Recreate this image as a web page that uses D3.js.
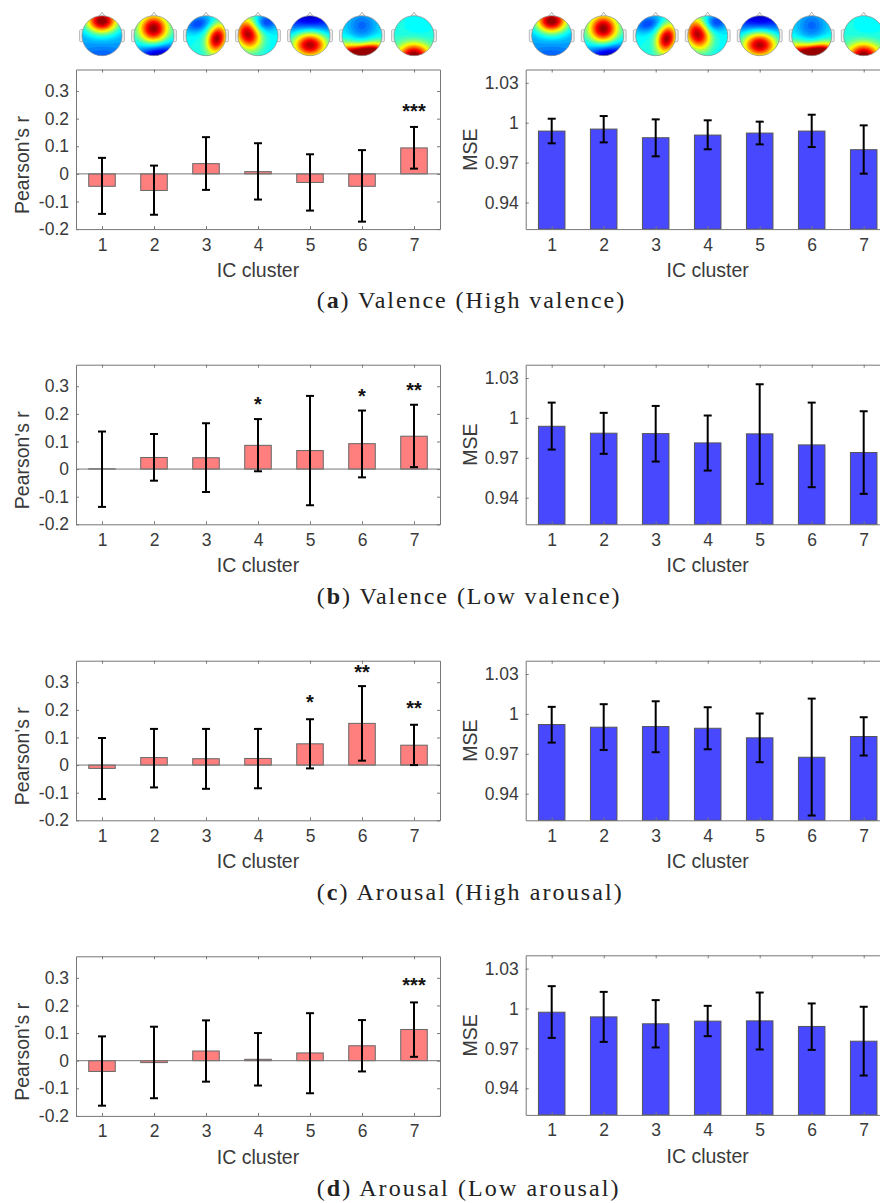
<!DOCTYPE html>
<html>
<head>
<meta charset="utf-8">
<script src="https://cdnjs.cloudflare.com/ajax/libs/d3/7.8.5/d3.min.js"></script>
<style>
	html, body { margin: 0; padding: 0; background: #fff; overflow: hidden; }
	svg { display: block; }
	text { font-family: "Liberation Sans", Arial, sans-serif; fill: #3a3a3a; }
	.caption { font-family: "Liberation Serif", serif; fill: #222; }
</style>
</head>
<body>
<script>
const clusters = [1, 2, 3, 4, 5, 6, 7];
const rTicks = [-0.2, -0.1, 0, 0.1, 0.2, 0.3];
const mseTicks = [0.94, 0.97, 1, 1.03];

const captionLetters = ['a', 'b', 'c', 'd'];
const captionTexts = [' Valence (High valence)', ' Valence (Low valence)', ' Arousal (High arousal)', ' Arousal (Low arousal)'];

// Pearson's r: bar height, top and bottom of the error bar
const rMeanA = [-0.045, -0.06, 0.037, 0.008, -0.031, -0.045, 0.094];
const rHighA = [0.058, 0.03, 0.133, 0.111, 0.071, 0.086, 0.17];
const rLowA = [-0.145, -0.148, -0.058, -0.093, -0.133, -0.173, 0.019];

const rMeanB = [0.001, 0.042, 0.041, 0.086, 0.067, 0.092, 0.119];
const rHighB = [0.136, 0.127, 0.166, 0.181, 0.265, 0.212, 0.233];
const rLowB = [-0.137, -0.042, -0.083, -0.008, -0.131, -0.03, 0.007];

const rMeanC = [-0.012, 0.027, 0.023, 0.024, 0.077, 0.151, 0.072];
const rHighC = [0.098, 0.131, 0.131, 0.131, 0.166, 0.286, 0.146];
const rLowC = [-0.123, -0.081, -0.086, -0.084, -0.012, 0.016, 0];

const rMeanD = [-0.039, -0.007, 0.035, 0.005, 0.028, 0.054, 0.113];
const rHighD = [0.088, 0.123, 0.146, 0.1, 0.172, 0.147, 0.211];
const rLowD = [-0.163, -0.136, -0.076, -0.09, -0.118, -0.039, 0.014];

// significance marks: [cluster, stars, value it sits at]
const starsA = [[7, '***', 0.235]];
const starsB = [[4, '*', 0.243], [6, '*', 0.273], [7, '**', 0.293]];
const starsC = [[5, '*', 0.236], [6, '**', 0.345], [7, '**', 0.214]];
const starsD = [[7, '***', 0.283]];

// MSE
const mseMeanA = [0.9937, 0.9952, 0.9887, 0.9907, 0.9922, 0.9937, 0.9797];
const mseHighA = [1.003, 1.005, 1.0025, 1.0018, 1.0008, 1.006, 0.998];
const mseLowA = [0.9845, 0.9852, 0.9747, 0.98, 0.9837, 0.9817, 0.9617];

const mseMeanB = [0.9937, 0.9885, 0.9882, 0.9812, 0.988, 0.9797, 0.974];
const mseHighB = [1.0115, 1.0038, 1.009, 1.0018, 1.0253, 1.0115, 1.005];
const mseLowB = [0.9762, 0.973, 0.9672, 0.9604, 0.9504, 0.9479, 0.9429];

const mseMeanC = [0.992, 0.99, 0.9905, 0.9892, 0.982, 0.9674, 0.983];
const mseHighC = [1.0053, 1.0073, 1.0095, 1.005, 1.0003, 1.0115, 0.9975];
const mseLowC = [0.9784, 0.9729, 0.9712, 0.9734, 0.9637, 0.9236, 0.9687];

const mseMeanD = [0.9972, 0.9937, 0.9885, 0.9905, 0.9907, 0.9865, 0.9754];
const mseHighD = [1.0168, 1.0125, 1.0063, 1.002, 1.012, 1.0038, 1.0013];
const mseLowD = [0.9779, 0.9749, 0.9707, 0.9792, 0.9692, 0.9689, 0.9496];

// scalp maps, one list per cluster: [x, y, spread x, spread y, tilt in degrees, strength]
const topoBase = [0.3, 0.38, 0.4, 0.38, 0.33, 0.38, 0.42];
const topo1 = [[0, -0.75, 0.55, 0.42, 0, 0.72], [0, 1.1, 0.8, 0.4, 0, -0.08]];
const topo2 = [[-0.02, -0.35, 0.5, 0.5, 0, 0.62], [0.3, 1.1, 0.8, 0.5, 0, -0.36]];
const topo3 = [[0.55, 0.15, 0.33, 0.5, 15, 0.58], [-0.4, -0.6, 0.5, 0.3, -15, -0.2]];
const topo4 = [[-0.5, -0.1, 0.42, 0.55, -20, 0.6], [0.35, -0.65, 0.5, 0.3, -15, -0.2]];
const topo5 = [[0, 0.45, 0.6, 0.45, 0, 0.65], [0, -1, 1, 0.6, 0, -0.25]];
const topo6 = [[0, -0.5, 0.55, 0.55, 0, -0.14], [0.4, 0.95, 0.5, 0.34, 0, 0.62], [-0.35, 1, 0.6, 0.34, 0, 0.5], [-0.85, 0.75, 0.4, 0.4, 0, 0.18], [0.85, 0.75, 0.4, 0.4, 0, 0.18]];
const topo7 = [[0, 1, 0.55, 0.42, 0, 0.6], [0.2, -0.5, 0.6, 0.6, 0, -0.04]];
const topoMaps = [topo1, topo2, topo3, topo4, topo5, topo6, topo7];

const jetStops = [0, 0.125, 0.375, 0.625, 0.875, 1];
const jetColors = ['#00008f', '#0000ff', '#00ffff', '#ffff00', '#ff0000', '#800000'];

const width = 880;
const height = 1203;

// rows are nearly 296px apart but not exactly
const leftTops = [69.5, 364.7, 660.7, 956.3];
const rightTops = [69.5, 364.7, 660.7, 955.3];
const captionBase = [308, 604, 900, 1196];
const captionWide = [307.5, 302.8, 305, 301.8];
const panelHeight = 159.6;
const barWidth = 0.51;

const rPanels = [
	{ mean: rMeanA, high: rHighA, low: rLowA, stars: starsA },
	{ mean: rMeanB, high: rHighB, low: rLowB, stars: starsB },
	{ mean: rMeanC, high: rHighC, low: rLowC, stars: starsC },
	{ mean: rMeanD, high: rHighD, low: rLowD, stars: starsD }
];
const msePanels = [
	{ mean: mseMeanA, high: mseHighA, low: mseLowA, stars: [] },
	{ mean: mseMeanB, high: mseHighB, low: mseLowB, stars: [] },
	{ mean: mseMeanC, high: mseHighC, low: mseLowC, stars: [] },
	{ mean: mseMeanD, high: mseHighD, low: mseLowD, stars: [] }
];

let svg = d3.select('body').append('svg')
	.attr('width', width)
	.attr('height', height);

let defs = svg.append('defs');
defs.append('filter')
	.attr('id', 'soft')
	.append('feGaussianBlur')
	.attr('stdDeviation', 0.35);
defs.append('clipPath')
	.attr('id', 'scalp')
	.append('circle')
	.attr('r', 20);

const jet = d3.scaleLinear().domain(jetStops).range(jetColors).clamp(true);

// the grid a scalp map is contoured from
const gridSize = 60;
function topoField(blobs, base) {
	let values = new Array(gridSize * gridSize);
	for (let j = 0; j < gridSize; j++) {
		for (let i = 0; i < gridSize; i++) {
			const ux = (i + 0.5) / gridSize * 2.2 - 1.1;
			const uy = (j + 0.5) / gridSize * 2.2 - 1.1;
			let v = base;
			for (let b of blobs) {
				const a = b[4] * Math.PI / 180;
				const dx = ux - b[0];
				const dy = uy - b[1];
				const px = (dx * Math.cos(a) + dy * Math.sin(a)) / b[2];
				const py = (-dx * Math.sin(a) + dy * Math.cos(a)) / b[3];
				v += b[5] * Math.exp(-(px * px + py * py) / 2);
			}
			values[j * gridSize + i] = v;
		}
	}
	return values;
}

const levels = d3.range(0, 1, 0.025);
const contours = d3.contours().size([gridSize, gridSize]).thresholds(levels);

function drawTopos(x) {
	topoMaps.forEach((blobs, k) => {
		let g = svg.append('g')
			.attr('transform', 'translate(' + x(clusters[k]) + ',35.7)');

		// nose and ears go under the head
		g.append('path')
			.attr('d', d3.line()([[-4, -18], [0, -23.4], [4, -18]]))
			.style('fill', '#fff')
			.style('stroke', '#999')
			.style('stroke-width', 0.8);
		for (let side of [-1, 1]) {
			g.append('rect')
				.attr('x', side < 0 ? -22.4 : 18)
				.attr('y', -6)
				.attr('width', 4.4)
				.attr('height', 12)
				.attr('rx', 1)
				.style('fill', '#eee')
				.style('stroke', '#aaa')
				.style('stroke-width', 0.8);
		}

		let head = g.append('g')
			.attr('clip-path', 'url(#scalp)');
		let inner = head.append('g')
			.attr('filter', 'url(#soft)')
			.attr('transform', 'scale(' + 44 / gridSize + ') translate(' + (-gridSize / 2) + ',' + (-gridSize / 2) + ')');
		inner.selectAll('path')
			.data(contours(topoField(blobs, topoBase[k])))
			.enter().append('path')
			.attr('d', d3.geoPath())
			.style('fill', d => jet(d.value))
			.style('stroke', d => jet(d.value))
			.style('stroke-width', 0.4);

		g.append('circle')
			.attr('r', 20)
			.style('fill', 'none')
			.style('stroke', '#888')
			.style('stroke-width', 0.7);
	});
}

function drawPanel(panel, opts) {
	const x = d3.scaleLinear().domain([0.5, 7.5]).range([opts.left, opts.left + 364]);
	const y = d3.scaleLinear().domain(opts.domain).range([opts.top + panelHeight, opts.top]);
	const base = opts.base === undefined ? opts.domain[0] : opts.base;
	const w = x(1 + barWidth / 2) - x(1 - barWidth / 2);

	let g = svg.append('g');

	g.selectAll('.bar')
		.data(clusters)
		.enter().append('rect')
		.attr('class', 'bar')
		.attr('x', c => x(c) - w / 2)
		.attr('y', (c, i) => Math.min(y(panel.mean[i]), y(base)))
		.attr('width', w)
		.attr('height', (c, i) => Math.abs(y(panel.mean[i]) - y(base)))
		.style('fill', opts.fill)
		.style('stroke', opts.edge)
		.style('stroke-width', 1);

	// axes on all four sides, MATLAB box style
	const axisStyle = sel => {
		sel.selectAll('path, line').style('stroke', '#777').style('stroke-width', 1);
		sel.selectAll('text').style('fill', '#3a3a3a').style('font-family', '"Liberation Sans", Arial, sans-serif');
	};
	g.append('g')
		.attr('transform', 'translate(0,' + y.range()[0] + ')')
		.call(d3.axisBottom(x).tickValues(clusters).tickSize(-3).tickSizeOuter(0).tickPadding(9).tickFormat(d3.format('d')))
		.call(axisStyle)
		.style('font-size', '17.5px');
	g.append('g')
		.attr('transform', 'translate(0,' + opts.top + ')')
		.call(d3.axisTop(x).tickValues(clusters).tickSize(-3).tickSizeOuter(0).tickFormat(''))
		.call(axisStyle);
	g.append('g')
		.attr('transform', 'translate(' + opts.left + ',0)')
		.call(d3.axisLeft(y).tickValues(opts.ticks).tickSize(-3).tickSizeOuter(0).tickPadding(7).tickFormat(d => String(d)))
		.call(axisStyle)
		.style('font-size', '17.5px');
	g.append('g')
		.attr('transform', 'translate(' + (opts.left + 364) + ',0)')
		.call(d3.axisRight(y).tickValues(opts.ticks).tickSize(-3).tickSizeOuter(0).tickFormat(''))
		.call(axisStyle);

	if (opts.base !== undefined) {
		g.append('line')
			.attr('x1', x.range()[0])
			.attr('x2', x.range()[1])
			.attr('y1', y(base))
			.attr('y2', y(base))
			.style('stroke', '#777')
			.style('stroke-width', 1);
	}

	// error bars
	let err = g.selectAll('.err')
		.data(clusters)
		.enter().append('g')
		.attr('class', 'err')
		.style('stroke', '#000')
		.style('stroke-width', 2);
	err.append('line')
		.attr('x1', c => x(c))
		.attr('x2', c => x(c))
		.attr('y1', (c, i) => y(panel.high[i]))
		.attr('y2', (c, i) => y(panel.low[i]));
	err.append('line')
		.attr('x1', c => x(c) - 4)
		.attr('x2', c => x(c) + 4)
		.attr('y1', (c, i) => y(panel.high[i]))
		.attr('y2', (c, i) => y(panel.high[i]));
	err.append('line')
		.attr('x1', c => x(c) - 4)
		.attr('x2', c => x(c) + 4)
		.attr('y1', (c, i) => y(panel.low[i]))
		.attr('y2', (c, i) => y(panel.low[i]));

	g.selectAll('.stars')
		.data(panel.stars)
		.enter().append('text')
		.attr('class', 'stars')
		.attr('x', d => x(d[0]))
		.attr('y', d => y(d[2]) + 9)
		.attr('text-anchor', 'middle')
		.style('font-size', '20px')
		.style('font-weight', 'bold')
		.style('fill', '#111')
		.text(d => d[1]);

	g.append('text')
		.attr('x', x(4))
		.attr('y', opts.top + panelHeight + 48)
		.attr('text-anchor', 'middle')
		.style('font-size', '19.5px')
		.text('IC cluster');

	g.append('text')
		.attr('transform', 'translate(' + opts.labelX + ',' + (opts.top + opts.labelDy) + ') rotate(-90)')
		.attr('text-anchor', 'middle')
		.style('font-size', '19.5px')
		.text(opts.label);

	return x;
}

rPanels.forEach((panel, i) => {
	const x = drawPanel(panel, {
		left: 76,
		top: leftTops[i],
		domain: [-0.2, 0.378],
		base: 0,
		ticks: rTicks,
		fill: '#ff7f7f',
		edge: '#666',
		label: "Pearson's r",
		labelX: 29,
		labelDy: 95.5
	});
	if (i === 0) {
		drawTopos(x);
	}
});

msePanels.forEach((panel, i) => {
	const x = drawPanel(panel, {
		left: 525.7,
		top: rightTops[i],
		domain: [0.92, 1.04],
		ticks: mseTicks,
		fill: '#4848ff',
		edge: '#555',
		label: 'MSE',
		labelX: 476.6,
		labelDy: 80
	});
	if (i === 0) {
		drawTopos(x);
	}
});

captionLetters.forEach((letter, i) => {
	let t = svg.append('text')
		.attr('class', 'caption')
		.attr('x', 316.7)
		.attr('y', captionBase[i])
		.attr('textLength', captionWide[i])
		.style('font-size', '24px');
	t.append('tspan').text('(');
	t.append('tspan').style('font-weight', 'bold').text(letter);
	t.append('tspan').text(')' + captionTexts[i]);
});
</script>
</body>
</html>
